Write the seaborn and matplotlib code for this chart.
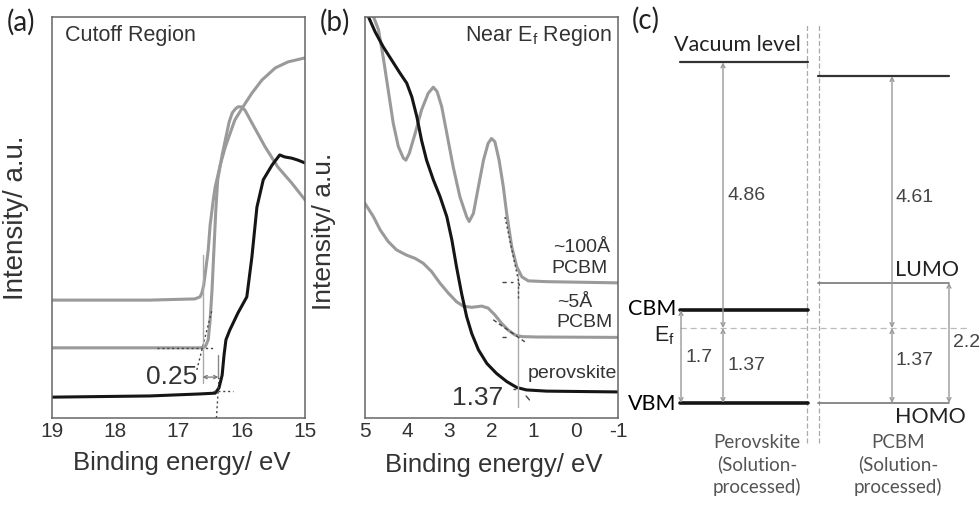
import matplotlib
matplotlib.use("Agg")
import matplotlib.pyplot as plt
import seaborn as sns
import numpy as np

sns.set_style("white")
plt.rcParams['font.family'] = ['Liberation Sans', 'DejaVu Sans']
plt.rcParams['mathtext.fontset'] = 'custom'
plt.rcParams['mathtext.rm'] = 'Liberation Sans'

# ---------------- data: panel (a) cutoff region ----------------
a_black_x = [19.0, 17.45, 16.66, 16.42, 16.36, 16.31, 16.28, 16.25, 16.19, 16.06, 15.92,
             15.84, 15.76, 15.66, 15.52, 15.40, 15.32, 15.21, 15.11, 15.0]
a_black_y = [0.052, 0.055, 0.060, 0.062, 0.075, 0.107, 0.157, 0.195, 0.219, 0.262, 0.302,
             0.401, 0.526, 0.594, 0.631, 0.656, 0.651, 0.648, 0.643, 0.636]
a_plateau_x = [19.0, 17.45, 16.74, 16.66, 16.63, 16.60, 16.57, 16.53, 16.50, 16.45, 16.42,
               16.34, 16.26, 16.11, 15.98, 15.84, 15.68, 15.47, 15.27, 15.0]
a_plateau_y = [0.294, 0.294, 0.297, 0.302, 0.312, 0.332, 0.369, 0.419, 0.481, 0.544, 0.576,
               0.631, 0.676, 0.743, 0.776, 0.810, 0.843, 0.873, 0.888, 0.898]
a_peak_x = [19.0, 17.45, 16.66, 16.58, 16.53, 16.50, 16.47, 16.44, 16.41, 16.38, 16.31,
            16.26, 16.20, 16.15, 16.10, 16.06, 16.01, 15.95, 15.84, 15.63, 15.43, 15.21, 15.0]
a_peak_y = [0.175, 0.175, 0.175, 0.177, 0.195, 0.244, 0.319, 0.419, 0.519, 0.594, 0.656,
            0.693, 0.738, 0.761, 0.771, 0.776, 0.776, 0.768, 0.736, 0.676, 0.626, 0.586, 0.544]
a_ticks = [19, 18, 17, 16, 15]
a_shift = 0.25

# ---------------- data: panel (b) near Ef region ----------------
b_black_x = [4.98, 4.92, 4.76, 4.57, 4.37, 4.17, 4.01, 3.89, 3.77, 3.66, 3.54, 3.38, 3.22,
             3.06, 2.94, 2.83, 2.71, 2.59, 2.47, 2.31, 2.11, 1.88, 1.64, 1.40, 1.17, 0.69, -1.0]
b_black_y = [1.03, 1.001, 0.963, 0.926, 0.893, 0.860, 0.835, 0.801, 0.751, 0.693, 0.643,
             0.594, 0.552, 0.502, 0.444, 0.377, 0.311, 0.253, 0.211, 0.170, 0.136, 0.111,
             0.091, 0.076, 0.070, 0.067, 0.065]
b_100_x = [4.85, 4.80, 4.68, 4.57, 4.45, 4.33, 4.21, 4.09, 4.03, 3.95, 3.81, 3.66, 3.50,
           3.38, 3.29, 3.18, 3.06, 2.91, 2.75, 2.59, 2.53, 2.43, 2.31, 2.19, 2.08, 2.00,
           1.92, 1.82, 1.72, 1.64, 1.52, 1.40, 1.28, 1.13, 0.69, -1.0]
b_100_y = [1.03, 1.001, 0.968, 0.901, 0.818, 0.735, 0.677, 0.648, 0.643, 0.660, 0.710,
           0.768, 0.810, 0.825, 0.814, 0.776, 0.710, 0.627, 0.552, 0.502, 0.490, 0.510,
           0.577, 0.643, 0.685, 0.697, 0.689, 0.643, 0.577, 0.510, 0.427, 0.377, 0.352,
           0.342, 0.340, 0.337]
b_5_x = [5.0, 4.80, 4.64, 4.45, 4.25, 4.01, 3.81, 3.62, 3.42, 3.22, 3.02, 2.83, 2.67,
         2.47, 2.23, 2.08, 1.92, 1.76, 1.60, 1.44, 1.28, 0.93, -1.0]
b_5_y = [0.535, 0.502, 0.469, 0.440, 0.419, 0.406, 0.398, 0.386, 0.365, 0.336, 0.311,
         0.290, 0.279, 0.276, 0.279, 0.274, 0.257, 0.236, 0.219, 0.207, 0.203, 0.202, 0.201]
b_ticks = [5, 4, 3, 2, 1, 0, -1]
b_onset = 1.37

# ---------------- data: panel (c) energy levels (eV rel. to Ef) ----------------
perov_wf = 4.86
pcbm_wf = 4.61
perov_gap = 1.7
pcbm_gap = 2.2
vbm_depth = 1.37
homo_depth = 1.37
vac_perov = perov_wf
vac_pcbm = pcbm_wf
vbm = -vbm_depth
cbm = vbm + perov_gap
homo = -homo_depth
lumo = homo + pcbm_gap

GRAY = '#9a9a9a'
BLACK = '#151515'
TXT = '#333333'

fig = plt.figure(figsize=(9.8, 5.08), dpi=100)


def px_axes(l, r, t, b):
    W, H = 980.0, 508.0
    return fig.add_axes([l / W, 1 - b / H, (r - l) / W, (b - t) / H])


def style_spec_axes(ax, xlim, ticks, minor):
    ax.set_xlim(*xlim)
    ax.set_ylim(0, 1)
    ax.set_xticks(ticks)
    ax.set_xticklabels([str(t) for t in ticks])
    ax.set_xticks(np.arange(min(xlim), max(xlim) + 1e-9, minor), minor=True)
    ax.set_yticks([])
    ax.tick_params(axis='x', which='major', direction='in', length=5, width=1,
                   color='#555555', labelsize=15, labelcolor=TXT, pad=3)
    ax.tick_params(axis='x', which='minor', direction='in', length=2.5, width=0.8,
                   color='#555555')
    for s in ax.spines.values():
        s.set_color('#666666')
        s.set_linewidth(1.1)
    ax.set_ylabel('')


# ---------------- panel (a) ----------------
axa = px_axes(52, 305, 17, 418)
sns.lineplot(x=a_plateau_x, y=a_plateau_y, ax=axa, color=GRAY, lw=2.2, sort=False, estimator=None)
sns.lineplot(x=a_peak_x, y=a_peak_y, ax=axa, color=GRAY, lw=2.2, sort=False, estimator=None)
sns.lineplot(x=a_black_x, y=a_black_y, ax=axa, color=BLACK, lw=2.2, sort=False, estimator=None)
style_spec_axes(axa, (19, 15), a_ticks, 0.2)
axa.set_xlabel('Binding energy/ eV', fontsize=18.5, color=TXT)
axa.xaxis.set_label_coords(0.514, -0.083)
axa.set_ylabel('Intensity/ a.u.', fontsize=20, color=TXT)
axa.yaxis.set_label_coords(-0.09, 0.5)
axa.text(0.05, 0.955, 'Cutoff Region', transform=axa.transAxes, fontsize=15.5,
         color=TXT, va='center', ha='left')
# cutoff construction lines
x_c1 = 16.62
x_c2 = x_c1 - a_shift
axa.plot([17.34, 16.45], [0.175, 0.175], ls=(0, (1.5, 2)), color='#444444', lw=1)
axa.plot([16.71, 16.47], [0.120, 0.270], ls=(0, (1.5, 2)), color='#444444', lw=1)
axa.plot([x_c1, x_c1], [0.087, 0.406], color='#aaaaaa', lw=1)
axa.plot([x_c2, x_c2], [0.100, 0.157], color='#888888', lw=1)
axa.plot([16.40, 16.36], [0.0, 0.10], ls=(0, (1.5, 2)), color='#444444', lw=1)
axa.plot([16.45, 16.14], [0.067, 0.067], ls=(0, (1.5, 2)), color='#444444', lw=1)
axa.annotate('', xy=(x_c2, 0.102), xytext=(x_c1, 0.102),
             arrowprops=dict(arrowstyle='<->', color='#777777', lw=0.9,
                             mutation_scale=6, shrinkA=0, shrinkB=0))
axa.text(16.71, 0.102, f'{a_shift:.2f}', fontsize=19, color=TXT, ha='right', va='center')

# ---------------- panel (b) ----------------
axb = px_axes(365, 618, 17, 418)
sns.lineplot(x=b_100_x, y=b_100_y, ax=axb, color=GRAY, lw=2.2, sort=False, estimator=None)
sns.lineplot(x=b_5_x, y=b_5_y, ax=axb, color=GRAY, lw=2.2, sort=False, estimator=None)
sns.lineplot(x=b_black_x, y=b_black_y, ax=axb, color=BLACK, lw=2.2, sort=False, estimator=None)
style_spec_axes(axb, (5, -1), b_ticks, 0.1)
axb.set_xlabel('Binding energy/ eV', fontsize=18.5, color=TXT)
axb.xaxis.set_label_coords(0.51, -0.088)
axb.set_ylabel('Intensity/ a.u.', fontsize=19, color=TXT)
axb.yaxis.set_label_coords(-0.115, 0.465)
axb.text(0.976, 0.955, r'Near E$_\mathrm{f}$ Region', transform=axb.transAxes,
         fontsize=15.5, color=TXT, va='center', ha='right')
axb.plot([b_onset, b_onset], [0.027, 0.362], color='#aaaaaa', lw=1)
axb.plot([1.75, 1.5], [0.339, 0.339], ls=(0, (3, 3)), color='#444444', lw=1)
axb.plot([1.68, 1.33], [0.501, 0.327], ls=(0, (1.5, 2)), color='#444444', lw=1)
axb.plot([1.37, 1.37], [0.300, 0.340], ls=(0, (1.5, 2)), color='#444444', lw=1)
axb.plot([1.75, 1.55], [0.202, 0.202], ls=(0, (3, 3)), color='#444444', lw=1)
axb.plot([1.96, 1.21], [0.245, 0.190], ls=(0, (3, 2)), color='#444444', lw=1)
axb.plot([1.5, 1.42], [0.072, 0.072], ls=(0, (2, 2)), color='#444444', lw=1)
axb.plot([1.18, 1.10], [0.055, 0.045], color='#444444', lw=1)
axb.text(2.34, 0.05, f'{b_onset:.2f}', fontsize=19, color=TXT, ha='center', va='center')
axb.text(-0.81, 0.426, '~100Å', fontsize=14, color=TXT, ha='right', va='center')
axb.text(-0.76, 0.374, 'PCBM', fontsize=14, color=TXT, ha='right', va='center')
axb.text(0.02, 0.289, '~5Å', fontsize=14, color=TXT, ha='center', va='center')
axb.text(-0.88, 0.237, 'PCBM', fontsize=14, color=TXT, ha='right', va='center')
axb.text(-0.98, 0.110, 'perovskite', fontsize=14, color=TXT, ha='right', va='center')

# ---------------- panel (c) ----------------
axc = px_axes(630, 980, 0, 508)
axc.set_xlim(0, 350)
axc.set_ylim(-3.29, 6.0)
axc.axis('off')
LAT = ['Lato', 'DejaVu Sans']

# separators and Ef
for xs in (177, 189):
    axc.plot([xs, xs], [-2.10, 5.58], ls=(0, (4, 2)), color='#aaaaaa', lw=0.9)
axc.plot([50, 340], [0, 0], ls=(0, (5, 3)), color='#bbbbbb', lw=0.9)

# levels
axc.plot([50, 178], [vac_perov, vac_perov], color='#333333', lw=1.6)
axc.plot([188, 319], [vac_pcbm, vac_pcbm], color='#333333', lw=1.6)
axc.plot([50, 178], [cbm, cbm], color=BLACK, lw=2.6)
axc.plot([50, 178], [vbm, vbm], color=BLACK, lw=2.6)
axc.plot([188, 319], [lumo, lumo], color='#777777', lw=1.2)
axc.plot([188, 319], [homo, homo], color='#777777', lw=1.2)


def darrow(x, y0, y1):
    axc.annotate('', xy=(x, y1), xytext=(x, y0),
                 arrowprops=dict(arrowstyle='<->', color='#999999', lw=1.0,
                                 mutation_scale=7, shrinkA=0, shrinkB=0))


darrow(93, 0, vac_perov)
darrow(93, vbm, 0)
darrow(51, vbm, cbm)
darrow(262, 0, vac_pcbm)
darrow(262, homo, 0)
darrow(319, homo, lumo)

NUM = '#444444'
axc.text(44, 5.17, 'Vacuum level', fontsize=15.5, color='#222222', family=LAT, va='center', ha='left')
axc.text(97, 2.43, f'{perov_wf:.2f}', fontsize=14, color=NUM, va='center', ha='left')
axc.text(265, 2.39, f'{pcbm_wf:.2f}', fontsize=14, color=NUM, va='center', ha='left')
axc.text(265, 1.06, 'LUMO', fontsize=15.5, color='#222222', family=LAT, va='center', ha='left')
axc.text(265, -1.63, 'HOMO', fontsize=15.5, color='#222222', family=LAT, va='center', ha='left')
axc.text(46, cbm + 0.02, 'CBM', fontsize=15.5, color='black', family=LAT, va='center', ha='right')
axc.text(46, vbm - 0.02, 'VBM', fontsize=15.5, color='black', family=LAT, va='center', ha='right')
axc.text(45, -0.13, r'E$_\mathrm{f}$', fontsize=15.5, color='#222222', va='center', ha='right')
axc.text(55, -0.53, f'{perov_gap:.1f}', fontsize=14, color=NUM, va='center', ha='left')
axc.text(97, -0.68, f'{vbm_depth:.2f}', fontsize=14, color=NUM, va='center', ha='left')
axc.text(265, -0.60, f'{homo_depth:.2f}', fontsize=14, color=NUM, va='center', ha='left')
axc.text(323, -0.26, f'{pcbm_gap:.1f}', fontsize=14, color=NUM, va='center', ha='left')
axc.text(127, -1.93, 'Perovskite\n(Solution-\nprocessed)', fontsize=13.5, color='#555555',
         family=LAT, va='top', ha='center', linespacing=1.3)
axc.text(268, -1.93, 'PCBM\n(Solution-\nprocessed)', fontsize=13.5, color='#555555',
         family=LAT, va='top', ha='center', linespacing=1.3)

# panel letters
fig.text(7 / 980, 1 - 22 / 508, '(a)', fontsize=20, family=LAT, color='#222222', va='center', ha='left')
fig.text(320 / 980, 1 - 22 / 508, '(b)', fontsize=20, family=LAT, color='#222222', va='center', ha='left')
fig.text(632 / 980, 1 - 20 / 508, '(c)', fontsize=20, family=LAT, color='#222222', va='center', ha='left')

fig.savefig('out.png', dpi=100, facecolor='white')
